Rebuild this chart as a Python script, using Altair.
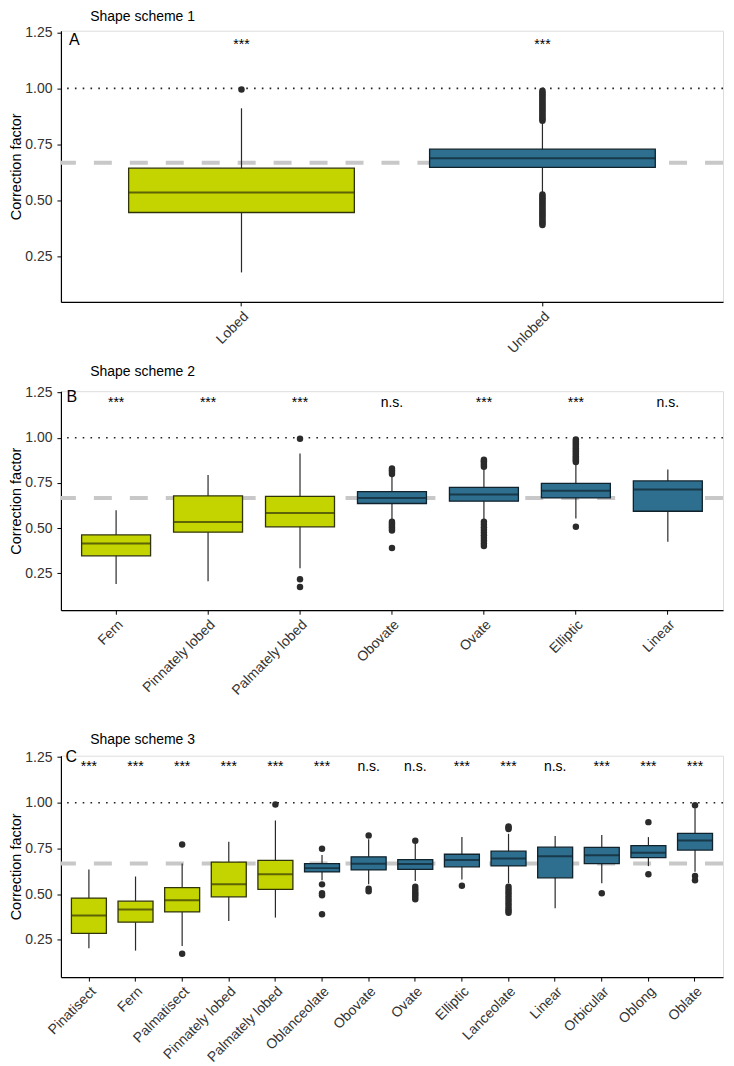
import altair as alt
import pandas as pd

# ---------------- data ----------------
GREEN = "#C4D400"
BLUE = "#2E6E8E"

# Panel A : Shape scheme 1
a_cats = ["Lobed", "Unlobed"]
a_grp = ["Lobed", "Unlobed"]
a_low = [0.177, 0.535]
a_q1 = [0.445, 0.647]
a_med = [0.534, 0.688]
a_q3 = [0.643, 0.728]
a_high = [0.911, 0.845]
a_sig = ["***", "***"]
a_out = {
    "Lobed": [0.995],
    "Unlobed": [0.855, 0.862, 0.870, 0.878, 0.886, 0.894, 0.902, 0.910, 0.918, 0.926,
                0.934, 0.942, 0.950, 0.958, 0.966, 0.974, 0.982, 0.990,
                0.525, 0.517, 0.509, 0.501, 0.493, 0.485, 0.477, 0.469, 0.461, 0.453,
                0.445, 0.437, 0.429, 0.421, 0.413, 0.405, 0.397, 0.389],
}

# Panel B : Shape scheme 2
b_cats = ["Fern", "Pinnately lobed", "Palmately lobed", "Obovate", "Ovate", "Elliptic", "Linear"]
b_grp = ["Lobed", "Lobed", "Lobed", "Unlobed", "Unlobed", "Unlobed", "Unlobed"]
b_low = [0.190, 0.206, 0.277, 0.550, 0.550, 0.553, 0.424]
b_q1 = [0.346, 0.477, 0.507, 0.636, 0.649, 0.667, 0.593]
b_med = [0.415, 0.534, 0.584, 0.667, 0.686, 0.706, 0.713]
b_q3 = [0.462, 0.678, 0.676, 0.702, 0.725, 0.747, 0.761]
b_high = [0.599, 0.794, 0.913, 0.790, 0.830, 0.860, 0.824]
b_sig = ["***", "***", "***", "n.s.", "***", "***", "n.s."]
b_out = {
    "Palmately lobed": [0.995, 0.216, 0.173],
    "Obovate": [0.800, 0.810, 0.820, 0.830, 0.535, 0.525, 0.515, 0.505, 0.495, 0.487, 0.390],
    "Ovate": [0.840, 0.850, 0.860, 0.870, 0.878, 0.535, 0.520, 0.505, 0.490, 0.475,
              0.460, 0.445, 0.430, 0.415, 0.400],
    "Elliptic": [0.866, 0.874, 0.882, 0.890, 0.898, 0.906, 0.915, 0.924, 0.933, 0.942,
                 0.951, 0.960, 0.970, 0.980, 0.990, 0.507],
}

# Panel C : Shape scheme 3
c_cats = ["Pinatisect", "Fern", "Palmatisect", "Pinnately lobed", "Palmately lobed",
          "Oblanceolate", "Obovate", "Ovate", "Elliptic", "Lanceolate", "Linear",
          "Orbicular", "Oblong", "Oblate"]
c_grp = ["Lobed"] * 5 + ["Unlobed"] * 9
c_low = [0.203, 0.190, 0.216, 0.352, 0.371, 0.575, 0.553, 0.571, 0.580, 0.560, 0.422, 0.559, 0.653, 0.622]
c_q1 = [0.285, 0.346, 0.402, 0.485, 0.526, 0.621, 0.632, 0.635, 0.649, 0.654, 0.589, 0.667, 0.700, 0.741]
c_med = [0.383, 0.415, 0.466, 0.553, 0.608, 0.642, 0.666, 0.664, 0.686, 0.695, 0.707, 0.712, 0.726, 0.794]
c_q3 = [0.478, 0.461, 0.535, 0.675, 0.685, 0.667, 0.704, 0.689, 0.718, 0.735, 0.757, 0.756, 0.765, 0.832]
c_high = [0.635, 0.596, 0.668, 0.786, 0.903, 0.714, 0.800, 0.775, 0.813, 0.830, 0.818, 0.823, 0.812, 0.970]
c_sig = ["***", "***", "***", "***", "***", "***", "n.s.", "n.s.", "***", "***",
         "n.s.", "***", "***", "***"]
c_out = {
    "Palmatisect": [0.772, 0.173],
    "Palmately lobed": [0.991],
    "Oblanceolate": [0.748, 0.553, 0.504, 0.493, 0.389],
    "Obovate": [0.821, 0.529, 0.515],
    "Ovate": [0.792, 0.540, 0.525, 0.510, 0.497, 0.485, 0.472],
    "Elliptic": [0.546],
    "Lanceolate": [0.856, 0.863, 0.870, 0.540, 0.525, 0.510, 0.495, 0.480, 0.465,
                   0.450, 0.435, 0.420, 0.408, 0.398],
    "Orbicular": [0.504],
    "Oblong": [0.894, 0.608],
    "Oblate": [0.986, 0.599, 0.575],
}

ref_one = [1.0]
ref_expected = [0.667]
y_ticks = [0.25, 0.50, 0.75, 1.00, 1.25]
y_domain = [0.045, 1.258]

W = 663
FONT = "Liberation Sans"


def make_panel(cats, grp, low, q1, med, q3, high, sig, outliers, height,
               title, title_offset, letter, letter_y, letter_x):
    n = len(cats)
    df = pd.DataFrame(dict(cat=cats, grp=grp, low=low, q1=q1, med=med,
                           q3=q3, high=high, sig=sig))
    rows = [(c, v) for c, vals in outliers.items() for v in vals]
    odf = pd.DataFrame(rows, columns=["cat", "val"])

    xsc = alt.Scale(domain=cats, paddingInner=0.25, paddingOuter=0.225)
    ysc = alt.Scale(domain=y_domain, nice=False, zero=False)
    xax = alt.Axis(title=None, labelAngle=-45, labelAlign="right", labelBaseline="top",
                   labelFontSize=14, labelColor="#333333", labelPadding=3,
                   tickSize=4, tickColor="black", domainColor="black", domainWidth=1.2,
                   labelFont=FONT, grid=False)
    yax = alt.Axis(values=y_ticks, format=".2f", labelFontSize=14, labelColor="#333333",
                   labelPadding=5, tickSize=4, tickColor="black", domainColor="black",
                   domainWidth=1.2, titleFontSize=14.5, titleFontWeight="normal",
                   titleColor="black", titlePadding=1, labelFont=FONT, titleFont=FONT,
                   grid=False)

    def X(field="cat"):
        return alt.X(f"{field}:N", scale=xsc, axis=xax)

    def Y(field):
        return alt.Y(f"{field}:Q", scale=ysc, axis=yax, title="Correction factor")

    fill_sc = alt.Scale(domain=["Lobed", "Unlobed"], range=[GREEN, BLUE])
    stroke_sc = alt.Scale(domain=["Lobed", "Unlobed"], range=["#30340a", "#10222c"])

    dash = alt.Chart(pd.DataFrame({"v": ref_expected})).mark_rule(
        color="#c8c8c8", strokeWidth=4, strokeDash=[18, 18]).encode(y=Y("v"))
    dots = alt.Chart(pd.DataFrame({"v": ref_one})).mark_rule(
        color="#222222", strokeWidth=1.6, strokeDash=[1.6, 6.2]).encode(y=Y("v"))
    base = alt.Chart(df)
    whisk = base.mark_rule(color="#2a2a2a", strokeWidth=1.2).encode(
        x=X(), y=Y("low"), y2="high:Q")
    box = base.mark_bar(strokeWidth=1.3).encode(
        x=X(), y=Y("q1"), y2="q3:Q",
        fill=alt.Fill("grp:N", scale=fill_sc, legend=None),
        stroke=alt.Stroke("grp:N", scale=stroke_sc, legend=None))
    medl = base.mark_tick(thickness=2, size=0.75 * W / (n + 0.2)).encode(
        x=X(), y=Y("med"),
        color=alt.Color("grp:N", scale=stroke_sc, legend=None))
    outs = alt.Chart(odf).mark_circle(size=42, color="#2b2b2b", opacity=1).encode(
        x=X(), y=Y("val"))
    sigt = base.mark_text(fontSize=14, color="black", baseline="middle", font=FONT).encode(
        x=X(), y=alt.Y("sy:Q", scale=ysc, axis=yax, title="Correction factor"),
        text="sig:N").transform_calculate(sy="1.195")
    let = alt.Chart(pd.DataFrame({"t": [letter], "y": [letter_y]})).mark_text(
        fontSize=16, align="left", baseline="top", color="black", font=FONT).encode(
        x=alt.value(letter_x), y=Y("y"), text="t:N")

    return alt.layer(dash, dots, whisk, box, medl, outs, sigt, let).properties(
        width=W, height=height,
        title=alt.TitleParams(title, anchor="start", frame="group", dx=29.3, fontSize=14,
                              fontWeight="normal", color="black", font=FONT,
                              offset=title_offset))


A = make_panel(a_cats, a_grp, a_low, a_q1, a_med, a_q3, a_high, a_sig, a_out,
               271.6, "Shape scheme 1", 1.6, "A", 1.252, 8)
B = make_panel(b_cats, b_grp, b_low, b_q1, b_med, b_q3, b_high, b_sig, b_out,
               219.3, "Shape scheme 2", 6.5, "B", 1.268, 5.5)
C = make_panel(c_cats, c_grp, c_low, c_q1, c_med, c_q3, c_high, c_sig, c_out,
               221.7, "Shape scheme 3", 2, "C", 1.294, 4.5)


def spacer(h):
    return alt.Chart(pd.DataFrame({"a": [0]})).mark_point(opacity=0).properties(
        width=W, height=h)


chart = alt.vconcat(A, spacer(88.4), B, spacer(144.3), C, spacing=0, bounds="flush").properties(
    padding=0
).configure_view(stroke=None).configure(font=FONT)

chart.save("out.html", embed_options={"renderer": "svg", "actions": False})
